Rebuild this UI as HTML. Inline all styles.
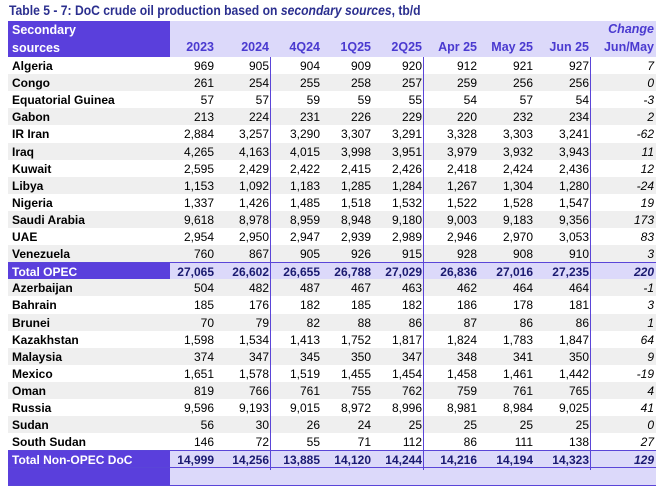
<!DOCTYPE html><html><head><style>
body{margin:0;width:664px;height:470px;background:#fff;overflow:hidden;font-family:"Liberation Sans",Arial,sans-serif;position:relative}
.t{position:absolute;left:9px;top:3px;font-size:13.5px;font-weight:bold;color:#2b2f8f;transform:scaleX(.9);transform-origin:left;white-space:nowrap}
.r{position:absolute;left:8px;width:648px;height:17.1px;font-size:12px;line-height:18px;color:#000}
.r div{position:absolute;top:0;height:100%;text-align:right;white-space:nowrap}
.r .l{left:0;width:158px;text-align:left;padding-left:4px;font-weight:bold}
.g{background:#efefef}
.tot{background:#dcd9fa;border-top:1px solid #5a45d8;border-bottom:1px solid #5a45d8;font-weight:bold;color:#1a1a70}
.tot .l{background:#5a3fdc;color:#fff}
.v{position:absolute;width:1px;background:#5a45d8}
.hdr{position:absolute;left:8px;top:21px;width:648px;height:36px;background:#dcd9fa;font-weight:bold;font-size:12.5px;color:#4a3ad0}
.hdr .d{position:absolute;left:0;top:0;width:162px;height:36px;background:#5a3fdc;color:#fff;line-height:18px;padding-left:4px;box-sizing:border-box}
.hdr span{position:absolute;top:19px;text-align:right}
</style></head><body>
<div class="t">Table 5 - 7: DoC crude oil production based on <i>secondary sources</i>, tb/d</div>
<div class="hdr"><div class="d">Secondary<br>sources</div>
<span style="right:442px">2023</span><span style="right:387px">2024</span><span style="right:336px">4Q24</span><span style="right:285px">1Q25</span><span style="right:234px">2Q25</span><span style="right:179px">Apr 25</span><span style="right:123px">May 25</span><span style="right:67px">Jun 25</span><span style="right:2px">Jun/May</span><span style="right:2px;top:1px;font-style:italic">Change</span></div>
<div id="rows"></div>
<div class="v" style="left:270px;top:57px;height:413px"></div>
<div class="v" style="left:423px;top:57px;height:413px"></div>
<div class="v" style="left:590px;top:57px;height:413px"></div>
<script>
var d=[["Algeria","969","905","904","909","920","912","921","927","7"],
["Congo","261","254","255","258","257","259","256","256","0"],
["Equatorial Guinea","57","57","59","59","55","54","57","54","-3"],
["Gabon","213","224","231","226","229","220","232","234","2"],
["IR Iran","2,884","3,257","3,290","3,307","3,291","3,328","3,303","3,241","-62"],
["Iraq","4,265","4,163","4,015","3,998","3,951","3,979","3,932","3,943","11"],
["Kuwait","2,595","2,429","2,422","2,415","2,426","2,418","2,424","2,436","12"],
["Libya","1,153","1,092","1,183","1,285","1,284","1,267","1,304","1,280","-24"],
["Nigeria","1,337","1,426","1,485","1,518","1,532","1,522","1,528","1,547","19"],
["Saudi Arabia","9,618","8,978","8,959","8,948","9,180","9,003","9,183","9,356","173"],
["UAE","2,954","2,950","2,947","2,939","2,989","2,946","2,970","3,053","83"],
["Venezuela","760","867","905","926","915","928","908","910","3"],
["Total  OPEC","27,065","26,602","26,655","26,788","27,029","26,836","27,016","27,235","220",1],
["Azerbaijan","504","482","487","467","463","462","464","464","-1"],
["Bahrain","185","176","182","185","182","186","178","181","3"],
["Brunei","70","79","82","88","86","87","86","86","1"],
["Kazakhstan","1,598","1,534","1,413","1,752","1,817","1,824","1,783","1,847","64"],
["Malaysia","374","347","345","350","347","348","341","350","9"],
["Mexico","1,651","1,578","1,519","1,455","1,454","1,458","1,461","1,442","-19"],
["Oman","819","766","761","755","762","759","761","765","4"],
["Russia","9,596","9,193","9,015","8,972","8,996","8,981","8,984","9,025","41"],
["Sudan","56","30","26","24","25","25","25","25","0"],
["South Sudan","146","72","55","71","112","86","111","138","27"],
["Total Non-OPEC DoC","14,999","14,256","13,885","14,120","14,244","14,216","14,194","14,323","129",1],
["","","","","","","","","","",1]];
var R=[442,387,336,285,234,179,123,67,2],h="";
d.forEach(function(r,i){var c=r[10]?"tot":(i%2?"g":"");
h+='<div class="r '+c+'" style="top:'+(57+i*17.1)+'px"><div class="l">'+r[0]+'</div>';
for(var j=1;j<10;j++)h+='<div style="right:'+R[j-1]+'px'+(j==9?';font-style:italic':'')+'">'+r[j]+'</div>';
h+='</div>';});
document.getElementById("rows").innerHTML=h;
</script>
</body></html>
